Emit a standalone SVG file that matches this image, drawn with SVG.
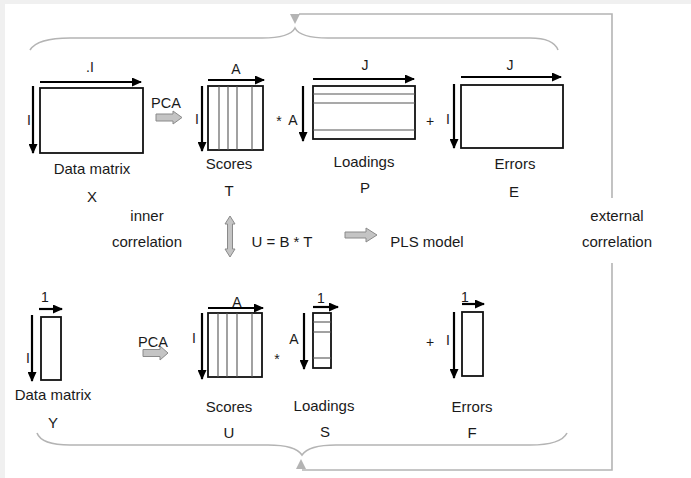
<svg xmlns="http://www.w3.org/2000/svg" width="691" height="478" viewBox="0 0 691 478">
<style>
  text { font-family: "Liberation Sans", Arial, sans-serif; fill: #1a1a1a; }
  .lb { font-size: 15px; text-anchor: middle; }
  .sm { font-size: 14px; text-anchor: middle; }
  .pca { font-size: 14.5px; text-anchor: middle; }
  .mat { fill: #fff; stroke: #111; stroke-width: 1.8; }
  .inner { stroke: #555; stroke-width: 1.1; }
  .arr { stroke: #000; stroke-width: 2.2; fill: none; marker-end: url(#ah); }
  .gray { stroke: #b4b4b4; stroke-width: 1.6; fill: none; }
  .block { fill: #c4c4c4; stroke: #8a8a8a; stroke-width: 1; }
</style>
<defs>
  <marker id="ah" markerUnits="userSpaceOnUse" markerWidth="10" markerHeight="9" viewBox="0 0 10 9" refX="9" refY="4.5" orient="auto">
    <path d="M0,0 L10,4.5 L0,9 z" fill="#000"/>
  </marker>
</defs>
<rect x="0" y="0" width="691" height="478" fill="#f0f0f0"/>
<rect x="5" y="4" width="686" height="474" fill="#fff"/>

<g id="connectors">
  <path class="gray" d="M30,50 C35,42 48,38 70,38 H262 C282,38 292,34 295,28 C298,34 308,38 328,38 H530 C546,38 555,42 558,50"/>
  <path class="gray" d="M37,433 C40,441 50,445 70,445 H268 C288,445 298,449 302,455 C306,449 316,445 336,445 H530 C550,445 563,441 567,433"/>
  <path class="gray" d="M299,14 H612 V198"/>
  <path class="gray" d="M612,263 V470 H302"/>
  <polygon points="290,14 300,14 295,24" fill="#b4b4b4"/>
  <polygon points="296,469 306,469 301,459" fill="#b4b4b4"/>
  <polygon class="block" points="156,114 173,114 173,111 182,117.5 173,124 173,121 156,121"/>
  <polygon class="block" points="143,349.5 160,349.5 160,346 168,353 160,360 160,356.5 143,356.5"/>
  <polygon class="block" points="345,232 366,232 366,228 377,235 366,242 366,238 345,238"/>
  <polygon class="block" points="230,216 235,224 232.5,224 232.5,249 235,249 230,257 225,249 227.5,249 227.5,224 225,224"/>
</g>

<g id="matrixX">
  <rect class="mat" x="40" y="88" width="103" height="65"/>
  <line class="arr" x1="40" y1="82" x2="141" y2="82"/>
  <line class="arr" x1="33" y1="86" x2="33" y2="153"/>
  <text class="sm" x="90" y="72">.I</text>
  <text class="sm" x="29" y="125">I</text>
  <text class="lb" x="92" y="174">Data matrix</text>
  <text class="lb" x="92" y="202">X</text>
  <text class="pca" x="166" y="108">PCA</text>
</g>

<g id="scoresT">
  <rect class="mat" x="208" y="86" width="55" height="64"/>
  <line class="inner" x1="219" y1="86" x2="219" y2="150"/>
  <line class="inner" x1="228" y1="86" x2="228" y2="150"/>
  <line class="inner" x1="237" y1="86" x2="237" y2="150"/>
  <line class="inner" x1="252" y1="86" x2="252" y2="150"/>
  <line class="arr" x1="208" y1="80" x2="264" y2="80"/>
  <line class="arr" x1="202" y1="86" x2="202" y2="151"/>
  <text class="sm" x="236" y="74">A</text>
  <text class="sm" x="197" y="124">I</text>
  <text class="lb" x="229" y="169">Scores</text>
  <text class="lb" x="229" y="196">T</text>
  <text class="sm" x="279" y="126">*</text>
  <text class="sm" x="293" y="125">A</text>
</g>

<g id="loadingsP">
  <rect class="mat" x="313" y="86" width="102" height="53"/>
  <line class="inner" x1="313" y1="94" x2="415" y2="94"/>
  <line class="inner" x1="313" y1="103" x2="415" y2="103"/>
  <line class="inner" x1="313" y1="130" x2="415" y2="130"/>
  <line class="arr" x1="313" y1="79" x2="414" y2="79"/>
  <line class="arr" x1="303" y1="86" x2="303" y2="141"/>
  <text class="sm" x="365" y="70">J</text>
  <text class="lb" x="364" y="167">Loadings</text>
  <text class="lb" x="365" y="193">P</text>
  <text class="sm" x="430" y="126">+</text>
</g>

<g id="errorsE">
  <rect class="mat" x="461" y="85" width="102" height="63"/>
  <line class="arr" x1="461" y1="77" x2="561" y2="77"/>
  <line class="arr" x1="454" y1="84" x2="454" y2="148"/>
  <text class="sm" x="510" y="70">J</text>
  <text class="sm" x="448" y="124">I</text>
  <text class="lb" x="515" y="169">Errors</text>
  <text class="lb" x="514" y="197">E</text>
</g>

<g id="relations">
  <text class="lb" x="147" y="221">inner</text>
  <text class="lb" x="147" y="247">correlation</text>
  <text class="lb" x="282" y="247">U = B * T</text>
  <text class="lb" x="427" y="247">PLS model</text>
  <text class="lb" x="617" y="221">external</text>
  <text class="lb" x="617" y="247">correlation</text>
</g>

<g id="matrixY">
  <rect class="mat" x="41" y="317" width="20" height="63"/>
  <line class="arr" x1="39" y1="309" x2="62" y2="309"/>
  <line class="arr" x1="32" y1="315" x2="32" y2="381"/>
  <text class="sm" x="45" y="302">1</text>
  <text class="sm" x="28" y="363">I</text>
  <text class="lb" x="53" y="400">Data matrix</text>
  <text class="lb" x="53" y="428">Y</text>
  <text class="pca" x="153" y="347">PCA</text>
</g>

<g id="scoresU">
  <rect class="mat" x="208" y="313" width="54" height="64"/>
  <line class="inner" x1="218" y1="313" x2="218" y2="377"/>
  <line class="inner" x1="227" y1="313" x2="227" y2="377"/>
  <line class="inner" x1="237" y1="313" x2="237" y2="377"/>
  <line class="inner" x1="252" y1="313" x2="252" y2="377"/>
  <line class="arr" x1="208" y1="308" x2="263" y2="308"/>
  <line class="arr" x1="202" y1="313" x2="202" y2="379"/>
  <text class="sm" x="237" y="307">A</text>
  <text class="sm" x="194" y="343">I</text>
  <text class="lb" x="229" y="412">Scores</text>
  <text class="lb" x="229" y="438">U</text>
  <text class="sm" x="277" y="364">*</text>
</g>

<g id="loadingsS">
  <rect class="mat" x="313" y="313" width="18" height="55"/>
  <line class="inner" x1="313" y1="322" x2="331" y2="322"/>
  <line class="inner" x1="313" y1="332" x2="331" y2="332"/>
  <line class="inner" x1="313" y1="358" x2="331" y2="358"/>
  <line class="arr" x1="313" y1="307" x2="338" y2="307"/>
  <line class="arr" x1="304" y1="313" x2="304" y2="369"/>
  <text class="sm" x="321" y="303">1</text>
  <text class="sm" x="294" y="344">A</text>
  <text class="lb" x="324" y="411">Loadings</text>
  <text class="lb" x="325" y="437">S</text>
</g>

<g id="errorsF">
  <rect class="mat" x="462" y="312" width="21" height="64"/>
  <line class="arr" x1="462" y1="304" x2="484" y2="304"/>
  <line class="arr" x1="454" y1="312" x2="454" y2="378"/>
  <text class="sm" x="465" y="302">1</text>
  <text class="sm" x="448" y="345">I</text>
  <text class="sm" x="430" y="347">+</text>
  <text class="lb" x="472" y="412">Errors</text>
  <text class="lb" x="472" y="438">F</text>
</g>
</svg>
